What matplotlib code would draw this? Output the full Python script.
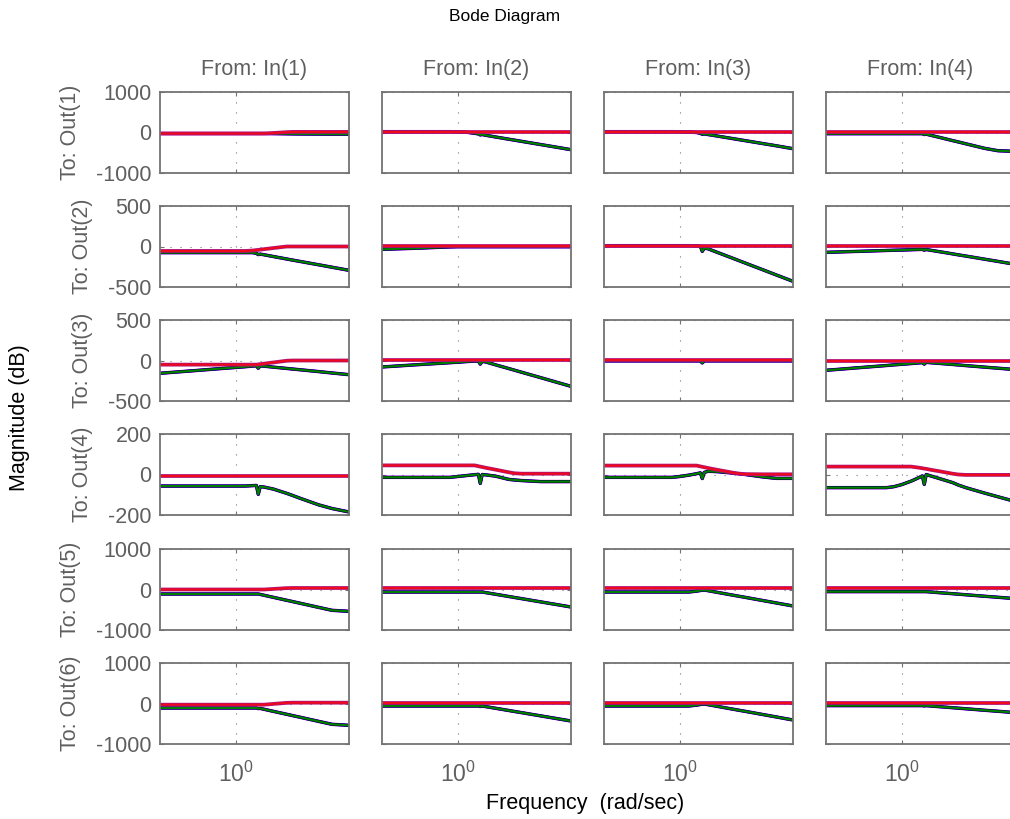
import numpy as np
import matplotlib
matplotlib.use("Agg")
import matplotlib.pyplot as plt
from matplotlib.ticker import NullLocator, FixedLocator

plt.rcParams['font.family'] = ['Liberation Sans', 'DejaVu Sans']
plt.rcParams['mathtext.fontset'] = 'custom'
plt.rcParams['mathtext.rm'] = 'Liberation Sans'
plt.rcParams['mathtext.default'] = 'regular'
plt.rcParams['axes.unicode_minus'] = False

# -------- data (magnitude in dB) ----------------------------------
freq = [0.398, 0.631, 0.832, 0.912, 1.0, 1.122, 1.230, 1.288, 1.318,
        1.349, 1.413, 1.585, 1.862, 1.995, 2.188, 2.754, 3.236, 3.981]

inputs  = ["In(1)", "In(2)", "In(3)", "In(4)"]
outputs = ["Out(1)", "Out(2)", "Out(3)", "Out(4)", "Out(5)", "Out(6)"]
y_limits = [1000, 500, 500, 200, 1000, 1000]

ref_out1 = [
    [-25, -25, -25, -25, -25, -25, -25, -25, -25, -25, -25, -12, 8, 15, 15, 15, 15, 15],
    [20, 20, 20, 20, 20, 20, 20, 20, 20, 20, 20, 20, 20, 20, 20, 20, 20, 20],
    [20, 20, 20, 20, 20, 20, 20, 20, 20, 20, 20, 20, 20, 20, 20, 20, 20, 20],
    [20, 20, 20, 20, 20, 20, 20, 20, 20, 20, 20, 20, 20, 20, 20, 20, 20, 20]]
fit_out1 = [
    [-25, -25, -25, -25, -25, -25, -25, -25, -25, -25, -25, -28, -32, -34, -36, -38, -40, -40],
    [20, 20, 20, 20, 16, 5, -20, -35, -60, -50, -70, -110, -165, -188, -220, -298, -353, -424],
    [20, 20, 20, 20, 18, 12, 0, -20, -45, -35, -50, -88, -142, -165, -196, -273, -327, -400],
    [-30, -30, -30, -30, -30, -30, -30, -30, -50, -41, -64, -120, -200, -233, -279, -392, -450, -465]]

ref_out2 = [
    [-55, -55, -55, -55, -55, -55, -50, -44, -42, -39, -33, -19, 0, 0, 0, 0, 0, 0],
    [5, 5, 5, 5, 5, 5, 5, 5, 5, 5, 5, 5, 5, 5, 5, 5, 5, 5],
    [10, 10, 10, 10, 10, 10, 10, 10, 10, 10, 10, 10, 10, 10, 10, 10, 10, 10],
    [5, 5, 5, 5, 5, 5, 5, 5, 5, 5, 5, 5, 5, 5, 5, 5, 5, 5]]
fit_out2 = [
    [-76, -76, -76, -76, -76, -76, -76, -85, -100, -94, -102, -124, -154, -167, -184, -226, -256, -294],
    [-35, -20, -8, -5, -3, -3, -3, -3, -3, -3, -3, -3, -3, -3, -3, -3, -3, -3],
    [10, 10, 10, 10, 10, 10, 8, 2, -60, -20, -28, -73, -135, -162, -198, -287, -350, -430],
    [-72, -58, -49, -46, -44, -40, -37, -36, -45, -37, -45, -64, -91, -103, -118, -157, -184, -220]]

ref_out3 = [
    [-51, -51, -51, -51, -51, -51, -51, -51, -48, -45, -39, -24, -3, 0, 0, 0, 0, 0],
    [10, 10, 10, 10, 10, 10, 10, 10, 10, 10, 10, 10, 10, 10, 10, 10, 10, 10],
    [10, 10, 10, 10, 10, 10, 10, 10, 10, 10, 10, 10, 10, 10, 10, 10, 10, 10],
    [0, 0, 0, 0, 0, 0, 0, 0, 0, 0, 0, 0, 0, 0, 0, 0, 0, 0]]
fit_out3 = [
    [-158, -122, -100, -93, -86, -77, -69, -66, -95, -66, -70, -82, -98, -105, -114, -137, -154, -175],
    [-80, -50, -33, -27, -21, -13, -7, -6, -45, -10, -19, -53, -99, -119, -146, -212, -259, -319],
    [-5, -5, -5, -5, -5, -5, -5, -5, -30, -5, -5, -5, -5, -5, -5, -5, -5, -5],
    [-121, -84, -62, -54, -47, -38, -30, -27, -45, -23, -27, -36, -49, -55, -63, -82, -95, -112]]

ref_out4 = [
    [-7, -7, -7, -7, -7, -7, -7, -7, -7, -7, -7, -7, -7, -7, -7, -7, -7, -7],
    [45, 45, 45, 45, 45, 45, 45, 41, 39, 37, 33, 24, 11, 6, 4, 4, 4, 4],
    [44, 44, 44, 44, 44, 44, 44, 40, 38, 36, 32, 23, 11, 6, 2, 1, 1, 1],
    [39, 39, 39, 39, 39, 39, 34, 31, 29, 28, 24, 16, 4, 0, -2, -2, -2, -2]]
fit_out4 = [
    [-57, -57, -57, -57, -57, -57, -55, -54, -98, -60, -62, -72, -93, -103, -117, -150, -168, -185],
    [-14, -14, -14, -14, -10, -5, -1, 1, -44, 0, -2, -8, -24, -27, -30, -35, -35, -35],
    [-14, -14, -14, -14, -10, -3, 4, 8, -20, 10, 16, 14, 8, 5, 1, -12, -19, -19],
    [-65, -65, -65, -60, -50, -33, -16, -7, -49, 0, -6, -20, -40, -52, -65, -92, -110, -133]]

ref_out5 = [
    [0, 0, 0, 0, 0, 0, 0, 0, 0, 0, 0, 14, 34, 37, 37, 37, 37, 37],
    [37, 37, 37, 37, 37, 37, 37, 37, 37, 37, 37, 37, 37, 37, 37, 37, 37, 37],
    [37, 37, 37, 37, 37, 37, 37, 37, 37, 37, 37, 37, 37, 37, 37, 37, 37, 37],
    [37, 37, 37, 37, 37, 37, 37, 37, 37, 37, 37, 37, 37, 37, 37, 37, 37, 37]]
fit_out5 = [
    [-111, -111, -111, -111, -111, -111, -111, -111, -111, -121, -142, -194, -266, -297, -338, -442, -514, -539],
    [-62, -62, -62, -62, -62, -62, -62, -62, -62, -62, -78, -117, -172, -196, -227, -306, -361, -432],
    [-62, -62, -62, -62, -62, -62, -40, -25, -18, -12, -29, -71, -130, -155, -188, -272, -331, -407],
    [-53, -53, -53, -53, -53, -53, -53, -53, -53, -53, -60, -79, -104, -115, -130, -167, -192, -225]]

ref_out6 = [
    [-29, -29, -29, -29, -29, -29, -29, -29, -29, -29, -29, -10, 16, 20, 20, 20, 20, 20],
    [20, 20, 20, 20, 20, 20, 20, 20, 20, 20, 20, 20, 20, 20, 20, 20, 20, 20],
    [20, 20, 20, 20, 20, 20, 20, 20, 20, 20, 20, 20, 20, 20, 20, 20, 20, 20],
    [20, 20, 20, 20, 20, 20, 20, 20, 20, 20, 20, 20, 20, 20, 20, 20, 20, 20]]
fit_out6 = [
    [-111, -111, -111, -111, -111, -111, -111, -111, -125, -121, -142, -194, -266, -297, -338, -442, -514, -539],
    [-62, -62, -62, -62, -62, -62, -62, -62, -75, -62, -78, -117, -172, -196, -227, -306, -361, -432],
    [-62, -62, -62, -62, -62, -62, -40, -25, -18, -12, -29, -71, -130, -155, -188, -272, -331, -407],
    [-53, -53, -53, -53, -53, -53, -53, -53, -60, -53, -60, -79, -104, -115, -130, -167, -192, -225]]

ref_rows = [ref_out1, ref_out2, ref_out3, ref_out4, ref_out5, ref_out6]
fit_rows = [fit_out1, fit_out2, fit_out3, fit_out4, fit_out5, fit_out6]

# -------- layout (pixels of a 1010x819 figure) ----------
W, H = 1010, 819
col_left = [160, 382, 604, 826]
row_top  = [92, 206, 320, 434, 549, 663]
ax_w, ax_h = 189, 81

gray = '#5f5f5f'
frame = '#737373'
fs = 15.5

fig = plt.figure(figsize=(W / 100, H / 100), dpi=100)

for r in range(6):
    for c in range(4):
        ax = fig.add_axes([col_left[c] / W, 1 - (row_top[r] + ax_h) / H, ax_w / W, ax_h / H])
        fit = fit_rows[r][c]
        ref = ref_rows[r][c]
        # overlapping model responses, thickest first
        ax.semilogx(freq, fit, color='#c000c0', lw=2.5)
        ax.semilogx(freq, fit, color='#0000ff', lw=2.2)
        ax.semilogx(freq, fit, color='#000000', lw=1.9)
        ax.semilogx(freq, fit, color='#008000', lw=1.5)
        ax.semilogx(freq, ref, color='#b0107a', lw=2.7)
        ax.semilogx(freq, ref, color='#ee0a1a', lw=1.5)

        ax.set_xlim(freq[0], freq[-1])
        ym = y_limits[r]
        ax.set_ylim(-ym, ym)
        ax.yaxis.set_major_locator(FixedLocator([-ym, 0, ym]))
        ax.xaxis.set_major_locator(FixedLocator([1.0]))
        ax.xaxis.set_minor_locator(NullLocator())
        ax.grid(True, which='major', color='#777777', lw=0.8, linestyle=(0, (1, 8)))

        for s in ax.spines.values():
            s.set_color(frame)
            s.set_linewidth(1.3)
        ax.tick_params(direction='in', length=3, colors=frame, labelcolor=gray,
                       labelsize=fs, top=True, right=True, pad=6)

        if c == 0:
            ax.set_ylabel("To: " + outputs[r], color=gray, fontsize=fs, labelpad=11)
        else:
            ax.set_yticklabels([])
        if r == 0:
            ax.set_title("From: " + inputs[c], color=gray, fontsize=fs, pad=12)
        if r < 5:
            ax.set_xticklabels([])
        else:
            ax.tick_params(axis='x', labelsize=fs + 1, pad=13)

fig.text(505 / W, 1 - 17 / H, "Bode Diagram", ha='center', va='center', fontsize=12.5)
fig.text(20 / W, 1 - 418 / H, "Magnitude (dB)", ha='center', va='center',
         rotation=90, fontsize=fs)
fig.text(585 / W, 1 - 803 / H, "Frequency  (rad/sec)", ha='center', va='center', fontsize=fs)

plt.savefig("out.png", dpi=100)
